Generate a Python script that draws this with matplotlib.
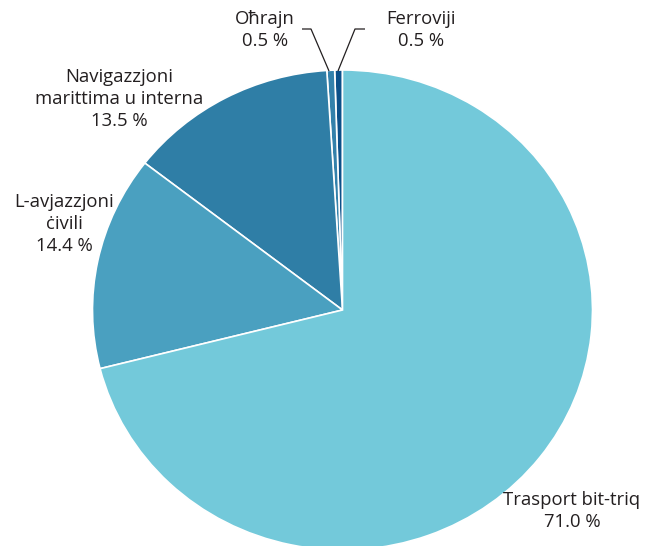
import matplotlib
matplotlib.use("Agg")
import matplotlib.pyplot as plt

categories = ["Ferroviji", "Oħrajn", "Navigazzjoni\nmarittima u interna", "L-avjazzjoni\nċivili", "Trasport bit-triq"]
values = [0.5, 0.5, 13.5, 14.4, 71.0]
colors = ["#0c5089", "#3381ab", "#2f7ea6", "#4aa0c0", "#73c9da"]

W, H = 654, 546
CX, CY = 342.5, 310.0   # pie centre in pixels (from top)
RX, RY = 250.0, 240.0   # pie radii in pixels

plt.rcParams['font.family'] = ['Open Sans', 'DejaVu Sans']
fig = plt.figure(figsize=(W / 100, H / 100), dpi=100)
ax = fig.add_axes([0, 0, 1, 1])

ax.pie(values, colors=colors, startangle=90, counterclock=True,
       wedgeprops=dict(edgecolor="white", linewidth=1.2))
ax.set_aspect('auto')
ax.set_xlim(-CX / RX, (W - CX) / RX)
ax.set_ylim(-(H - CY) / RY, CY / RY)
ax.axis('off')


def P(px, py):
    return ((px - CX) / RX, (CY - py) / RY)


txt = dict(color="#231f20", fontsize=13.3, ha="center", va="center", linespacing=1.3)

labels = {
    "Ferroviji": (421, 30),
    "Oħrajn": (265, 30),
    "Navigazzjoni\nmarittima u interna": (119, 99),
    "L-avjazzjoni\nċivili": (64, 224),
    "Trasport bit-triq": (572, 511),
}
for cat, v in zip(categories, values):
    x, y = labels[cat]
    ax.text(*P(x, y), f"{cat}\n{v:.1f} %", **txt)

# leader lines
line = dict(color="#231f20", linewidth=0.9, solid_capstyle="butt")
pts = [P(302, 29), P(311, 29), P(329, 71)]
ax.plot([p[0] for p in pts], [p[1] for p in pts], **line)
pts = [P(365, 29), P(355, 29), P(338, 71)]
ax.plot([p[0] for p in pts], [p[1] for p in pts], **line)

fig.savefig("out.png", dpi=100)
